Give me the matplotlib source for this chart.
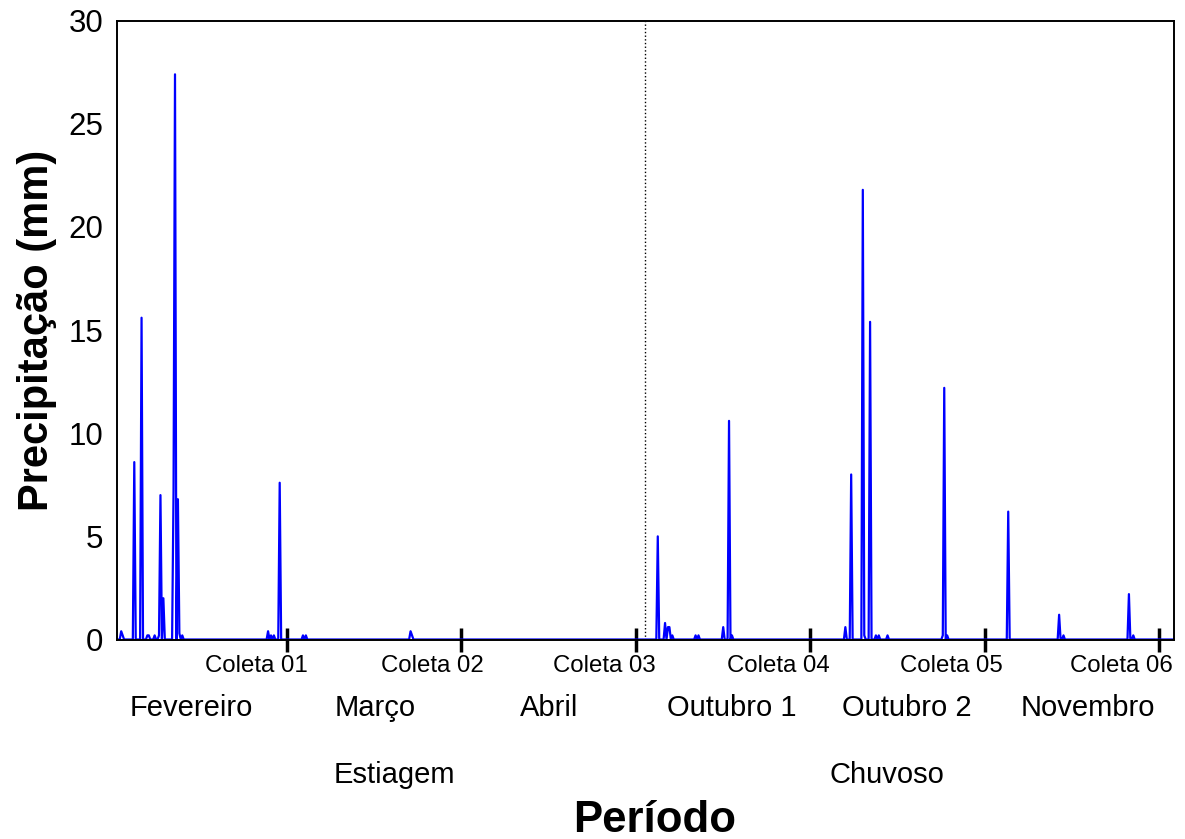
import numpy as np
import matplotlib
matplotlib.use("Agg")
import matplotlib.pyplot as plt
from matplotlib.transforms import blended_transform_factory

plt.rcParams['font.family'] = ['Liberation Sans', 'DejaVu Sans']

# ---- data (days since start, rainfall mm) ----
event_days = [1.5, 1.75, 3.75, 5.0, 6.0, 6.25, 7.25, 8.0, 8.25, 8.75,
              10.5, 10.75, 11.25, 11.5, 12.0,
              26.75, 27.25, 27.75, 28.75, 32.75, 33.25, 51.25, 51.5,
              93.75, 95.0, 95.5, 95.75, 96.25, 100.25, 100.75, 105.0, 106.0, 106.5,
              126.0, 127.0, 129.0, 129.25, 130.25, 131.25, 131.75, 133.25,
              142.75, 143.0, 143.5, 154.0, 162.75, 163.5, 174.75, 175.5]
event_mm = [0.4, 0.2, 8.6, 15.6, 0.2, 0.2, 0.2, 0.2, 7.0, 2.0,
            7.2, 27.4, 6.8, 0.3, 0.2,
            0.4, 0.2, 0.2, 7.6, 0.2, 0.2, 0.4, 0.2,
            5.0, 0.8, 0.6, 0.6, 0.2, 0.2, 0.2, 0.6, 10.6, 0.2,
            0.6, 8.0, 21.8, 0.2, 15.4, 0.2, 0.2, 0.2,
            0.2, 12.2, 0.2, 6.2, 1.2, 0.2, 2.2, 0.2]

coleta_days = [30, 60, 90, 120, 150, 180]
coleta_labels = ['Coleta 01', 'Coleta 02', 'Coleta 03', 'Coleta 04', 'Coleta 05', 'Coleta 06']
month_labels = ['Fevereiro', 'Março', 'Abril', 'Outubro 1', 'Outubro 2', 'Novembro']
season_labels = ['Estiagem', 'Chuvoso']
season_split_day = 91.54

# series on a 6-hour grid
step = 0.25
t = np.arange(0.75, 182.75, step)
rain = np.zeros_like(t)
for d, v in zip(event_days, event_mm):
    rain[int(round((d - t[0]) / step))] = v

# ---- figure ----
fig = plt.figure(figsize=(11.85, 8.39), dpi=100)
ax = fig.add_axes([117.3 / 1185, 1 - 639.5 / 839, (1174 - 117.3) / 1185, (639.5 - 20.7) / 839])

ax.plot(t, rain, color='#0000FF', lw=1.6)
ax.axvline(season_split_day, color='black', ls=':', lw=1.0)

ax.set_xlim(0.83, 182.5)
ax.set_ylim(0, 30)
ax.set_yticks(np.arange(0, 31, 5))
ax.set_xticks(coleta_days)
ax.tick_params(axis='x', direction='inout', length=17.5, width=2.5, labelbottom=False, color='black')
ax.tick_params(axis='y', length=0, labelsize=22.5, pad=10)
for s in ax.spines.values():
    s.set_linewidth(1.4)
    s.set_color('black')

ax.set_ylabel('Precipitação (mm)', fontsize=30, fontweight='bold', labelpad=8)

tr = blended_transform_factory(ax.transData, fig.transFigure)
coleta_label_x = [24.67, 54.93, 84.5, 114.4, 144.3, 173.4]
for x, lab in zip(coleta_label_x, coleta_labels):
    ax.text(x, 1 - 672 / 839, lab, transform=tr, ha='center', va='baseline', fontsize=17.3)

month_x = [13.5, 45.1, 75.0, 106.4, 136.6, 167.7]
for x, lab in zip(month_x, month_labels):
    ax.text(x, 1 - 716.5 / 839, lab, transform=tr, ha='center', va='baseline', fontsize=21)

season_x = [48.4, 133.2]
for x, lab in zip(season_x, season_labels):
    ax.text(x, 1 - 783 / 839, lab, transform=tr, ha='center', va='baseline', fontsize=21)

fig.text(655 / 1185, 1 - 831.5 / 839, 'Período', ha='center', va='baseline',
         fontsize=31.5, fontweight='bold')

fig.savefig('out.png', dpi=100)
